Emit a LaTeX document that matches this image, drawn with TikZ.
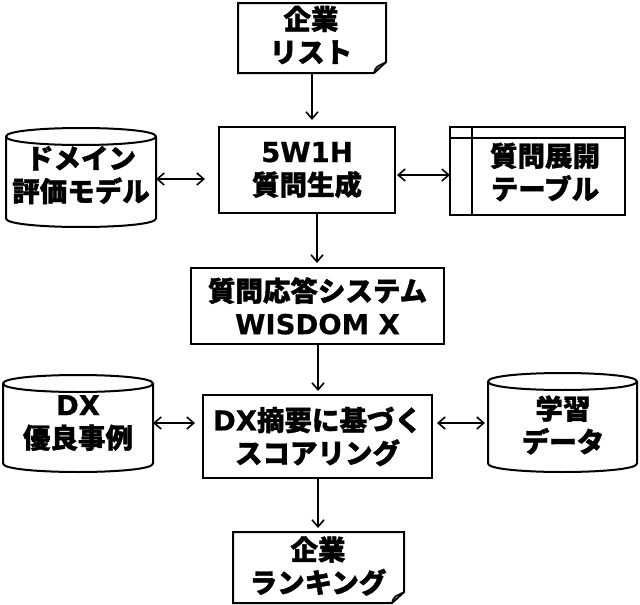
\documentclass[tikz,border=0pt]{standalone}
\usepackage{fontspec}
\setmainfont{Noto Sans CJK JP}[BoldFeatures={FakeBold=1.3}]
\newfontfamily\latf{DejaVu Sans}[BoldFeatures={FakeBold=0.6}]
\usetikzlibrary{arrows.meta,calc}
\newcommand{\lt}[1]{{\latf\bfseries #1}}
\newcommand{\cylpath}[1]{%
  \draw[shp] ($(#1.north west)+(0,8.5)$) -- ($(#1.south west)+(0,-8.5)$)
    .. controls ($(#1.south west)+(0,2.83)$) and ($(#1.south east)+(0,2.83)$) .. ($(#1.south east)+(0,-8.5)$)
    -- ($(#1.north east)+(0,8.5)$)
    .. controls ($(#1.north east)+(0,-2.83)$) and ($(#1.north west)+(0,-2.83)$) .. cycle;
  \draw[shp] ($(#1.north west)+(0,8.5)$)
    .. controls ($(#1.north west)+(0,19.83)$) and ($(#1.north east)+(0,19.83)$) .. ($(#1.north east)+(0,8.5)$);}
\newcommand{\docpath}[1]{%
  \draw[shp] (#1.north west) -- (#1.north east) -- ($(#1.south east)+(0,-11)$)
    -- ($(#1.south east)+(-12,0)$) -- (#1.south west) -- cycle;
  \draw[fold] ($(#1.south east)+(-12,0)$) .. controls ($(#1.south east)+(-11,-4)$) .. ($(#1.south east)+(-8,-7)$)
    -- ($(#1.south east)+(0,-11)$);}
\begin{document}
\begin{tikzpicture}[x=1pt,y=-1pt,
  lbl/.style={font=\fontsize{27.5}{33}\selectfont\bfseries, align=center, inner sep=0pt},
  fr/.style={draw=none, inner sep=0pt, outer sep=0pt},
  box/.style={draw=black, line width=2pt, fill=white, inner sep=0pt, outer sep=0pt,
    font=\fontsize{27.5}{33}\selectfont\bfseries, align=center},
  shp/.style={draw=black, line width=2pt, fill=white, line join=miter},
  fold/.style={draw=black, line width=1.5pt},
  arr1/.style={line width=1.6pt, -{Straight Barb[length=7pt,width=12pt]}},
  arr2/.style={line width=1.6pt, {Straight Barb[length=7pt,width=12pt]}-{Straight Barb[length=7pt,width=12pt]}}]
\useasboundingbox (0,0) rectangle (640,605);
\fill[white] (0,0) rectangle (640,605);

% top document
\node[fr, minimum width=148pt, minimum height=70pt] (topdoc) at (312,38) {};
\docpath{topdoc}
\node[lbl] (topdoct) at (311,35) {企業\\リスト};

% 5W1H box
\node[box, minimum width=176pt, minimum height=86pt] (w1h) at (307,170) {\lt{5W1H}\\質問生成};

% domain cylinder
\node[fr, minimum width=150pt, minimum height=99pt] (dom) at (81,177.5) {};
\cylpath{dom}
\node[lbl] (domt) at (81,175) {ドメイン\\評価モデル};

% table
\node[box, minimum width=175pt, minimum height=88pt] (tbl) at (537.5,171) {};
\draw[shp] ($(tbl.north west)+(22,0)$) -- ($(tbl.south west)+(22,0)$);
\draw[shp] ($(tbl.north west)+(0,11)$) -- ($(tbl.north east)+(0,11)$);
\node[lbl] (tblt) at (545,172) {質問展開\\テーブル};

% QA system
\node[box, minimum width=253pt, minimum height=76pt] (qa) at (317.5,306) {質問応答システム\\\lt{WISDOM X}};

% scoring
\node[box, minimum width=229pt, minimum height=83pt] (sc) at (317.5,436.5) {\lt{DX}摘要に基づく\\スコアリング};

% DX cylinder
\node[fr, minimum width=150pt, minimum height=97pt] (dx) at (78,423.5) {};
\cylpath{dx}
\node[lbl] (dxt) at (78,423) {\lt{DX}\\優良事例};

% learning cylinder
\node[fr, minimum width=149pt, minimum height=99pt] (learn) at (562.5,422.5) {};
\cylpath{learn}
\node[lbl] (learnt) at (563,425) {学習\\データ};

% bottom document
\node[fr, minimum width=171pt, minimum height=71pt] (bdoc) at (318.5,567.5) {};
\docpath{bdoc}
\node[lbl] (bdoct) at (318,566) {企業\\ランキング};

% connectors
\coordinate (ya) at (0,179);
\coordinate (yb) at (0,175);
\coordinate (yc) at (0,423);
\coordinate (xa) at (312,0);
\coordinate (xb) at (317,0);
\coordinate (xc) at (318,0);
\draw[arr2, shorten >=14pt] (dom.east |- ya) -- (w1h.west |- ya);
\draw[arr2, shorten <=2pt] (w1h.east |- yb) -- (tbl.west |- yb);
\draw[arr2, shorten >=8pt] (dx.east |- yc) -- (sc.west |- yc);
\draw[arr2, shorten <=5pt, shorten >=3pt] (sc.east |- yc) -- (learn.west |- yc);
\draw[arr1, shorten >=7pt] (topdoc.south -| xa) -- (w1h.north -| xa);
\draw[arr1, shorten >=5pt] (w1h.south -| xb) -- (qa.north -| xb);
\draw[arr1, shorten >=4pt] (qa.south -| xc) -- (sc.north -| xc);
\draw[arr1, shorten >=4pt] (sc.south -| xc) -- (bdoc.north -| xc);
\end{tikzpicture}
\end{document}
